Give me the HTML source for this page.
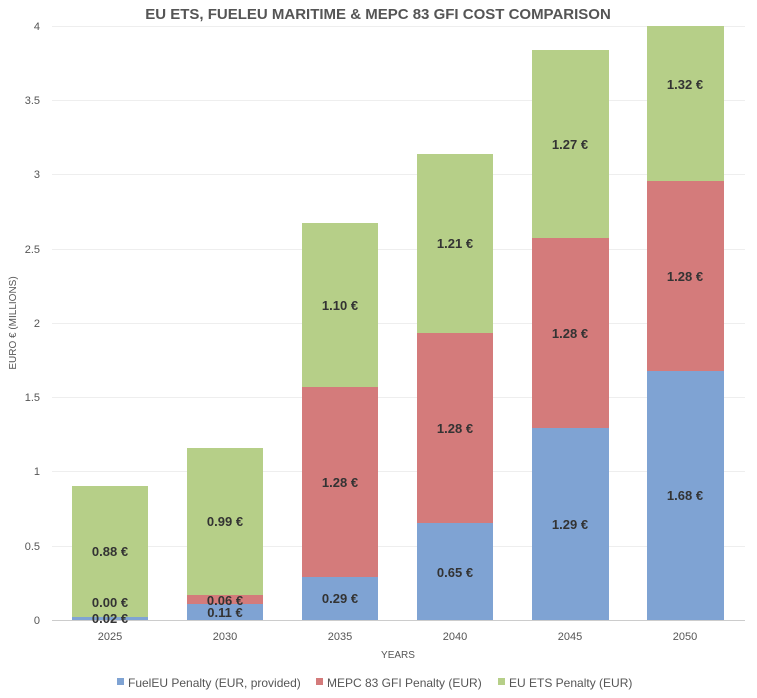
<!DOCTYPE html>
<html><head><meta charset="utf-8"><style>
body{margin:0;background:#fff}
svg{display:block;font-family:"Liberation Sans",sans-serif}
.t{font-size:11px;fill:#555}
.l{font-size:13px;font-weight:bold;fill:#333;text-anchor:middle}
</style></head><body>
<svg width="757" height="698" viewBox="0 0 757 698">
<text x="378" y="19" text-anchor="middle" font-size="15" font-weight="bold" fill="#555">EU ETS, FUELEU MARITIME &amp; MEPC 83 GFI COST COMPARISON</text>
<g stroke="#eee" stroke-width="1">
<line x1="52" x2="745" y1="26.5" y2="26.5"/><line x1="52" x2="745" y1="100.5" y2="100.5"/>
<line x1="52" x2="745" y1="174.5" y2="174.5"/><line x1="52" x2="745" y1="249.5" y2="249.5"/>
<line x1="52" x2="745" y1="323.5" y2="323.5"/><line x1="52" x2="745" y1="397.5" y2="397.5"/>
<line x1="52" x2="745" y1="471.5" y2="471.5"/><line x1="52" x2="745" y1="546.5" y2="546.5"/>
</g>
<g class="t" text-anchor="end">
<text x="40" y="30">4</text><text x="40" y="104">3.5</text><text x="40" y="178">3</text><text x="40" y="253">2.5</text>
<text x="40" y="327">2</text><text x="40" y="401">1.5</text><text x="40" y="475">1</text><text x="40" y="550">0.5</text><text x="40" y="624">0</text>
</g>
<text transform="translate(16,323) rotate(-90)" text-anchor="middle" font-size="10" fill="#555">EURO € (MILLIONS)</text>
<g>
<rect x="72" y="486" width="76" height="131" fill="#b6cf88"/><rect x="72" y="617" width="76" height="3" fill="#7fa3d3"/>
<rect x="187" y="448" width="76" height="147" fill="#b6cf88"/><rect x="187" y="595" width="76" height="9" fill="#d47b7b"/><rect x="187" y="604" width="76" height="16" fill="#7fa3d3"/>
<rect x="302" y="223" width="76" height="164" fill="#b6cf88"/><rect x="302" y="387" width="76" height="190" fill="#d47b7b"/><rect x="302" y="577" width="76" height="43" fill="#7fa3d3"/>
<rect x="417" y="154" width="76" height="179" fill="#b6cf88"/><rect x="417" y="333" width="76" height="190" fill="#d47b7b"/><rect x="417" y="523" width="76" height="97" fill="#7fa3d3"/>
<rect x="532" y="50" width="77" height="188" fill="#b6cf88"/><rect x="532" y="238" width="77" height="190" fill="#d47b7b"/><rect x="532" y="428" width="77" height="192" fill="#7fa3d3"/>
<rect x="647" y="26" width="77" height="155" fill="#b6cf88"/><rect x="647" y="181" width="77" height="190" fill="#d47b7b"/><rect x="647" y="371" width="77" height="249" fill="#7fa3d3"/>
</g>
<line x1="52" x2="745" y1="620.5" y2="620.5" stroke="#ccc"/>
<g class="l">
<text x="110" y="556">0.88 €</text><text x="110" y="607">0.00 €</text><text x="110" y="623">0.02 €</text>
<text x="225" y="526">0.99 €</text><text x="225" y="605">0.06 €</text><text x="225" y="617">0.11 €</text>
<text x="340" y="310">1.10 €</text><text x="340" y="487">1.28 €</text><text x="340" y="603">0.29 €</text>
<text x="455" y="248">1.21 €</text><text x="455" y="433">1.28 €</text><text x="455" y="577">0.65 €</text>
<text x="570" y="149">1.27 €</text><text x="570" y="338">1.28 €</text><text x="570" y="529">1.29 €</text>
<text x="685" y="89">1.32 €</text><text x="685" y="281">1.28 €</text><text x="685" y="500">1.68 €</text>
</g>
<g class="t" text-anchor="middle">
<text x="110" y="640">2025</text><text x="225" y="640">2030</text><text x="340" y="640">2035</text>
<text x="455" y="640">2040</text><text x="570" y="640">2045</text><text x="685" y="640">2050</text>
<text x="398" y="658" font-size="10">YEARS</text>
</g>
<g class="t" style="font-size:12px">
<rect x="117" y="678" width="7" height="7" fill="#7fa3d3"/><text x="128" y="687">FuelEU Penalty (EUR, provided)</text>
<rect x="316" y="678" width="7" height="7" fill="#d47b7b"/><text x="327" y="687">MEPC 83 GFI Penalty (EUR)</text>
<rect x="498" y="678" width="7" height="7" fill="#b6cf88"/><text x="509" y="687">EU ETS Penalty (EUR)</text>
</g>
</svg>
</body></html>
